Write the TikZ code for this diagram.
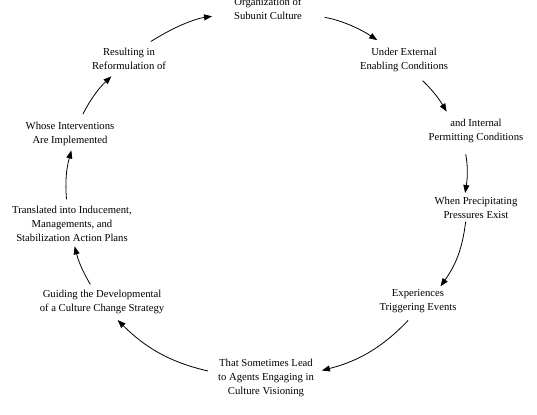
\documentclass[tikz,border=0pt]{standalone}
\usepackage{fontspec}
\setmainfont{Liberation Serif}
\usetikzlibrary{arrows.meta}
\begin{document}
\begin{tikzpicture}[x=0.75pt,y=-0.75pt]
	\tikzstyle{step node} = [align=center, font=\fontsize{8}{10.5}\selectfont, inner sep=2pt]
	\tikzstyle{cycle arrow} = [-{Triangle[length=6pt,width=4.5pt]}, line width=0.6pt]
	\useasboundingbox (0,0) rectangle (537,415);
	\node[step node] (1) at (268,9) {Organization of\\Subunit Culture};
	\node[step node] (2) at (404,60) {Under External\\Enabling Conditions};
	\node[step node] (3) at (476,131) {and Internal\\Permitting Conditions};
	\node[step node] (4) at (476,208) {When Precipitating\\Pressures Exist};
	\node[step node] (5) at (418,301) {Experiences\\Triggering Events};
	\node[step node] (6) at (266,378) {That Sometimes Lead\\to Agents Engaging in\\Culture Visioning};
	\node[step node] (7) at (102,302) {Guiding the Developmental\\of a Culture Change Strategy};
	\node[step node] (8) at (72,224) {Translated into Inducement,\\Managements, and\\Stabilization Action Plans};
	\node[step node] (9) at (70,134) {Whose Interventions\\Are Implemented};
	\node[step node] (10) at (129,59) {Resulting in\\Reformulation of};
	% clockwise round the cycle
	\path [cycle arrow] (1.-8) edge[bend left=12, shorten <=15pt, shorten >=7pt] (2.142);
	\path [cycle arrow] (2.-50) edge[bend left=8, shorten <=6.5pt, shorten >=4pt] (3.151);
	\path [cycle arrow] (3.231) edge[bend left=10, shorten <=6.5pt, shorten >=1pt] (4.129);
	\path [cycle arrow] (4.233) edge[bend left=14] (5.33);
	\path [cycle arrow] (5.250) edge[bend left=16, shorten <=5pt, shorten >=4pt] (6.7);
	\path [cycle arrow] (6.174) edge[bend left=16, shorten <=5.5pt, shorten >=3.5pt] (7.-50);
	\path [cycle arrow] (7.124) edge[bend left=8, shorten <=2.5pt, shorten >=1.3pt] (8.-84);
	\path [cycle arrow] (8.104) edge[bend left=10, shorten <=3pt, shorten >=1.3pt] (9.-83);
	\path [cycle arrow] (9.55) edge[bend left=10, shorten <=4.3pt, shorten >=4pt] (10.225);
	\path [cycle arrow] (10.41) edge[bend left=12, shorten <=5.4pt, shorten >=14.5pt] (1.187);
\end{tikzpicture}
\end{document}
